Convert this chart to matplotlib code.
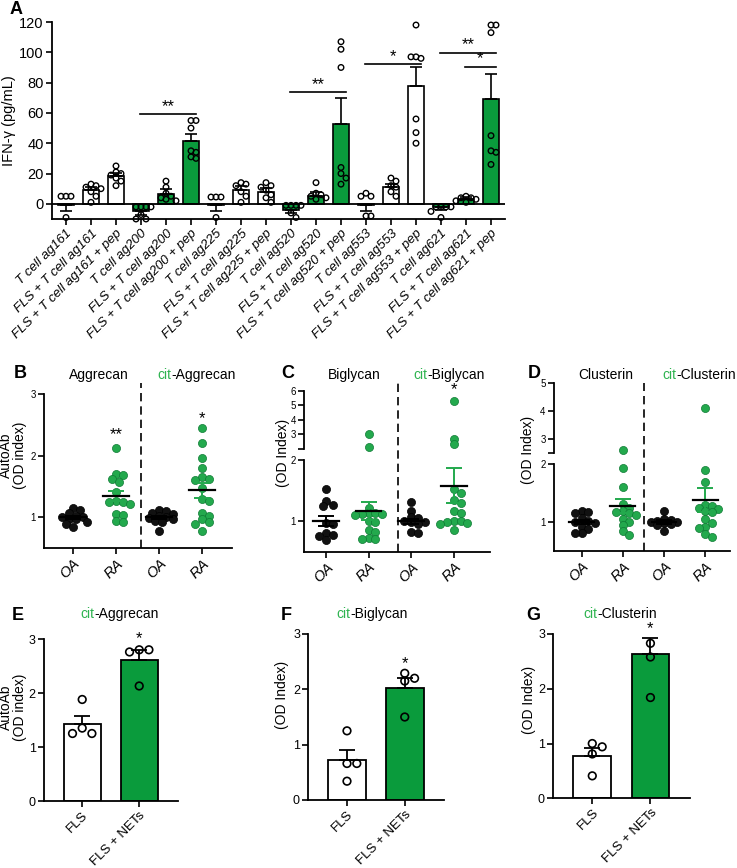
"""
Multi-panel figure: IFN-g bars (A), autoantibody dot plots (B-D), FLS vs FLS + NETs bars (E-G)
"""

import numpy as np
import matplotlib.pyplot as plt

GREEN_BAR = "#0a9b3c"
GREEN_DOT = "#23a94d"
GREEN_TXT = "#2db34f"

# ---- panel A data ----
a_labels = [
    "T cell ag161", "FLS + T cell ag161", "FLS + T cell ag161 + pep",
    "T cell ag200", "FLS + T cell ag200", "FLS + T cell ag200 + pep",
    "T cell ag225", "FLS + T cell ag225", "FLS + T cell ag225 + pep",
    "T cell ag520", "FLS + T cell ag520", "FLS + T cell ag520 + pep",
    "T cell ag553", "FLS + T cell ag553", "FLS + T cell ag553 + pep",
    "T cell ag621", "FLS + T cell ag621", "FLS + T cell ag621 + pep",
]
a_green = [0, 0, 0, 1, 1, 1, 0, 0, 0, 1, 1, 1, 0, 0, 0, 1, 1, 1]
a_means = [-0.5, 9, 18.5, -4.4, 6.5, 41.5, -0.5, 9, 8, -4, 5.5, 53,
           -0.5, 11, 78, -2, 3, 69]
a_err = [4, 2, 2, 2.8, 3, 4.5, 4, 2.5, 2.5, 2, 2, 17, 4, 2, 12, 2, 1.5, 17]
a_points = [
    [5, 5, 5, -9],
    [13, 12, 11, 10, 8, 5, 1],
    [25, 21, 20, 19, 17, 15, 12],
    [-2, -2, -2, -2, -7, -10, -10],
    [15, 11, 7, 5, 4, 3, 2],
    [55, 55, 50, 35, 34, 31, 30],
    [4.5, 4.5, 4.5, -9],
    [14, 13, 12, 8, 5, 1],
    [14, 12, 11, 9, 6, 4, 1],
    [-1, -1, -1, -1, -6, -9],
    [14, 7, 6, 5, 4, 3],
    [107, 102, 90, 24, 20, 17, 13],
    [7, 5, 5, -8, -8],
    [17, 15, 12, 11, 8, 5],
    [118, 97, 96, 97, 56, 47, 40],
    [-2, -2, -2, -2, -5, -9],
    [5, 4, 4, 3, 2, 1],
    [118, 118, 113, 45, 35, 34, 26],
]
a_sig = [(3, 5, 59, "**"), (9, 11, 73.5, "**"), (12, 14, 92, "*"),
         (15, 17, 99.5, "**"), (16, 17, 90.5, "*")]

# ---- panels B-D data ----
dot_groups = ["OA", "RA", "OA", "RA"]
b_points = [
    [1.15, 1.12, 1.07, 1.03, 1.0, 1.0, 0.98, 0.97, 0.92, 0.9, 0.85],
    [2.12, 1.7, 1.69, 1.62, 1.57, 1.42, 1.27, 1.25, 1.25, 1.22, 1.05, 1.04, 0.95, 0.93],
    [1.12, 1.1, 1.07, 1.05, 1.03, 1.0, 0.99, 0.97, 0.95, 0.93, 0.78],
    [2.45, 2.2, 1.96, 1.8, 1.66, 1.62, 1.6, 1.47, 1.3, 1.27, 1.08, 1.03, 0.97, 0.93, 0.9, 0.78],
]
b_means = [1.0, 1.35, 1.0, 1.44]
b_sems = [0.03, 0.08, 0.03, 0.12]

c_points = [
    [1.52, 1.33, 1.26, 1.25, 0.97, 0.96, 0.8, 0.78, 0.76, 0.69],
    [3.0, 2.15, 1.22, 1.13, 1.13, 1.12, 1.12, 1.1, 1.0, 0.98, 0.85, 0.83, 0.72, 0.7, 0.7],
    [1.32, 1.17, 1.07, 1.05, 1.0, 0.99, 0.98, 0.96, 0.82, 0.8],
    [5.3, 2.7, 2.35, 1.52, 1.46, 1.35, 1.3, 1.16, 1.14, 1.01, 1.0, 0.98, 0.97, 0.96, 0.86],
]
c_means = [1.0, 1.17, 1.0, 1.58]
c_sems = [0.08, 0.15, 0.04, 0.29]

d_points = [
    [1.2, 1.18, 1.15, 1.07, 1.02, 1.0, 0.98, 0.92, 0.88, 0.82, 0.82],
    [2.6, 1.93, 1.61, 1.32, 1.25, 1.2, 1.17, 1.15, 1.12, 1.05, 1.0, 0.95, 0.85, 0.78],
    [1.2, 1.05, 1.03, 1.02, 1.0, 1.0, 0.98, 0.97, 0.95, 0.85],
    [4.1, 1.9, 1.7, 1.3, 1.28, 1.25, 1.22, 1.2, 1.18, 1.05, 0.98, 0.92, 0.9, 0.8, 0.75],
]
d_means = [1.0, 1.28, 1.0, 1.38]
d_sems = [0.04, 0.12, 0.03, 0.21]

# ---- panels E-G data ----
net_labels = ["FLS", "FLS + NETs"]
e_means = [1.43, 2.62]
e_sems = [0.15, 0.17]
e_points = [[1.88, 1.35, 1.25, 1.25], [2.8, 2.8, 2.76, 2.13]]
f_means = [0.72, 2.02]
f_sems = [0.18, 0.19]
f_points = [[1.25, 0.66, 0.66, 0.34], [2.29, 2.2, 2.15, 1.5]]
g_means = [0.77, 2.63]
g_sems = [0.14, 0.3]
g_points = [[1.0, 0.94, 0.81, 0.41], [2.83, 2.58, 1.84]]

W, H = 737, 868
fig = plt.figure(figsize=(W / 100, H / 100), dpi=100)
plt.rcParams["font.family"] = ["Liberation Sans", "DejaVu Sans"]


def px_axes(left, top, right, bottom):
    return fig.add_axes([left / W, 1 - bottom / H, (right - left) / W, (bottom - top) / H])


def style(ax, bottom=True):
    for s in ["top", "right"]:
        ax.spines[s].set_visible(False)
    ax.spines["left"].set_linewidth(1.3)
    ax.spines["bottom"].set_linewidth(1.3)
    if not bottom:
        ax.spines["bottom"].set_visible(False)
        ax.tick_params(axis="x", bottom=False, labelbottom=False)
    ax.tick_params(direction="out", length=4, width=1.2, pad=2)
    ax.patch.set_alpha(0)


def swarm(vals, dx, dy, kmax=5):
    # simple beeswarm offsets; if no free slot, take the least crowded one
    placed, offs = [], []
    cands = [0.0]
    for k in range(1, kmax + 1):
        cands += [k * dx / 2, -k * dx / 2]
    for v in vals:
        best, best_d = 0.0, -1
        for c in cands:
            d = min([((c - px) / dx) ** 2 + ((v - py) / dy) ** 2 for px, py in placed] or [9])
            if d >= 1:
                best = c
                break
            if d > best_d:
                best, best_d = c, d
        placed.append((best, v))
        offs.append(best)
    return np.array(offs)


def fig_text(x, y, s, **kw):
    fig.text(x / W, 1 - y / H, s, **kw)


def two_color_title(x_anchor, y, rest):
    fig_text(x_anchor, y, "cit", color=GREEN_TXT, ha="right", va="center", fontsize=10)
    fig_text(x_anchor, y, rest, color="k", ha="left", va="center", fontsize=10)


# ================= A =================
axA = px_axes(52, 22, 505, 219)
style(axA)
xa = np.arange(len(a_labels))
a_cols = [GREEN_BAR if g else "white" for g in a_green]
axA.bar(xa, a_means, width=0.63, color=a_cols, edgecolor="k", linewidth=1.2, zorder=2)
for i, (m, e) in enumerate(zip(a_means, a_err)):
    yerr = [[0], [e]] if m >= 0 else [[e], [0]]
    axA.errorbar(xa[i], m, yerr=yerr, color="k", lw=1.2, capsize=4, capthick=1.2, zorder=3)
    offs = swarm(a_points[i], 0.2, 3.6)
    axA.scatter(xa[i] + offs, a_points[i], s=16, facecolors="none", edgecolors="k",
                linewidths=1.0, zorder=4, clip_on=False)
axA.axhline(0, color="k", lw=1.3, zorder=3)
for i, j, y, lab in a_sig:
    axA.plot([i - 0.05, j + 0.2], [y, y], color="k", lw=1.2, clip_on=False)
    axA.text((i + j + 0.15) / 2, y + 0.5, lab, ha="center", va="bottom", fontsize=12)
axA.set_xlim(-0.56, 17.56)
axA.set_ylim(-10, 120)
axA.set_yticks(range(0, 121, 20))
axA.set_xticks(xa)
axA.set_xticklabels(a_labels, rotation=45, ha="right", rotation_mode="anchor",
                    fontsize=9.5, style="italic")
axA.tick_params(axis="y", labelsize=10.5)
axA.set_ylabel("IFN-γ (pg/mL)", fontsize=10.5, labelpad=2)
fig_text(10, 10, "A", fontsize=13, fontweight="bold", ha="left", va="center")


# ================= B-D =================
def dot_points(ax_lo, ax_hi, points, split, dx, dy):
    for i, pts in enumerate(points):
        col = "#111111" if i % 2 == 0 else GREEN_DOT
        edge = "k" if i % 2 == 0 else "#0e7a34"
        pts = np.array(pts)
        offs = swarm(pts, dx, dy, kmax=4)
        lo = pts <= split
        ax_lo.scatter(i + offs[lo], pts[lo], s=34, color=col, edgecolors=edge,
                      linewidths=0.5, zorder=3, clip_on=False)
        if ax_hi is not None and (~lo).any():
            ax_hi.scatter(i + offs[~lo], pts[~lo], s=34, color=col, edgecolors=edge,
                          linewidths=0.5, zorder=3, clip_on=False)


def mean_sem(ax, means, sems):
    for i, (m, s) in enumerate(zip(means, sems)):
        ecol = "k" if i % 2 == 0 else GREEN_DOT
        ax.errorbar(i, m, yerr=s, color=ecol, lw=1.4, capsize=6, capthick=1.4, zorder=4)
        ax.plot([i - 0.3, i + 0.3], [m, m], color="k", lw=1.6, zorder=5)


def dot_axis(ax, xlim, top_px, bot_px, dash_top_px, dash_x):
    style(ax)
    ax.set_xlim(*xlim)
    ax.set_xticks(range(4))
    ax.set_xticklabels(dot_groups, rotation=45, ha="right", rotation_mode="anchor",
                       fontsize=10.5, style="italic")
    ax.tick_params(axis="y", labelsize=7)
    ax.axvline(dash_x, ymin=0, ymax=(bot_px - dash_top_px) / (bot_px - top_px),
               color="k", lw=1.2, ls=(0, (5, 3)), clip_on=False)


# B
axB = px_axes(44, 394, 232, 548.3)
dot_axis(axB, (-0.67, 3.7), 394, 548.3, 383, 1.58)
axB.set_ylim(0.5, 3)
axB.set_yticks([1, 2, 3])
dot_points(axB, None, b_points, 10, 0.16, 0.09)
mean_sem(axB, b_means, b_sems)
axB.text(1, 2.22, "**", ha="center", va="bottom", fontsize=12)
axB.text(3, 2.48, "*", ha="center", va="bottom", fontsize=12)

# C (broken axis)
axC = px_axes(304.3, 460, 490, 551.7)
axC2 = px_axes(304.3, 390.7, 490, 449)
dot_axis(axC, (-0.51, 3.85), 460, 551.7, 383, 1.68)
style(axC2, bottom=False)
axC.set_ylim(0.5, 2)
axC.set_yticks([1, 2])
axC2.set_xlim(-0.51, 3.85)
axC2.set_ylim(2, 6)
axC2.set_yticks([2, 3, 4, 5, 6])
axC2.set_yticklabels(["", "3", "4", "5", "6"])
axC2.tick_params(axis="y", labelsize=7)
dot_points(axC, axC2, c_points, 2.0, 0.16, 0.09)
mean_sem(axC, c_means, c_sems)
axC2.text(3, 5.55, "*", ha="center", va="bottom", fontsize=12)

# D (broken axis)
axD = px_axes(554, 464.3, 730, 551)
axD2 = px_axes(554, 382.7, 730, 452.7)
dot_axis(axD, (-0.67, 3.6), 464.3, 551, 383, 1.52)
style(axD2, bottom=False)
axD.set_ylim(0.5, 2)
axD.set_yticks([1, 2])
axD2.set_xlim(-0.67, 3.6)
axD2.set_ylim(2.5, 5)
axD2.set_yticks([2.5, 3, 4, 5])
axD2.set_yticklabels(["", "3", "4", "5"])
axD2.tick_params(axis="y", labelsize=7)
dot_points(axD, axD2, d_points, 2.0, 0.16, 0.095)
mean_sem(axD, d_means, d_sems)

# titles, letters, y labels for B-D
fig_text(14, 373, "B", fontsize=13, fontweight="bold", ha="left", va="center")
fig_text(281, 373, "C", fontsize=13, fontweight="bold", ha="left", va="center")
fig_text(528, 373, "D", fontsize=13, fontweight="bold", ha="left", va="center")
fig_text(99, 375, "Aggrecan", fontsize=10, ha="center", va="center")
two_color_title(171, 375, "-Aggrecan")
fig_text(354, 375, "Biglycan", fontsize=10, ha="center", va="center")
two_color_title(427, 375, "-Biglycan")
fig_text(606, 375, "Clusterin", fontsize=10, ha="center", va="center")
two_color_title(676, 375, "-Clusterin")
fig_text(13, 455, "AutoAb\n(OD index)", fontsize=10, rotation=90, ha="center",
         va="center", linespacing=0.95)
fig_text(283, 453, "(OD Index)", fontsize=10, rotation=90, ha="center", va="center")
fig_text(528, 450, "(OD Index)", fontsize=10, rotation=90, ha="center", va="center")


# ================= E-G =================
def net_panel(ax, means, sems, points, star_y):
    style(ax)
    xb = np.arange(2)
    ax.bar(xb, means, width=0.65, color=["white", GREEN_BAR], edgecolor="k",
           linewidth=1.3, zorder=2)
    for i, (m, s) in enumerate(zip(means, sems)):
        ax.errorbar(i, m, yerr=[[0], [s]], color="k", lw=1.3, capsize=6, capthick=1.3, zorder=3)
        offs = swarm(points[i], 0.17, 0.12)
        ax.scatter(i + offs, points[i], s=30, facecolors="none", edgecolors="k",
                   linewidths=1.2, zorder=4, clip_on=False)
    ax.text(1, star_y, "*", ha="center", va="bottom", fontsize=12)
    ax.set_xlim(-0.67, 1.68)
    ax.set_ylim(0, 3)
    ax.set_yticks([0, 1, 2, 3])
    ax.set_xticks(xb)
    ax.set_xticklabels(net_labels, rotation=45, ha="right", rotation_mode="anchor", fontsize=9.5)
    ax.tick_params(axis="y", labelsize=9)


axE = px_axes(44, 639, 178, 801)
net_panel(axE, e_means, e_sems, e_points, 2.86)
axF = px_axes(308.3, 634, 444, 800)
net_panel(axF, f_means, f_sems, f_points, 2.33)
axG = px_axes(553.3, 634, 690, 798.3)
net_panel(axG, g_means, g_sems, g_points, 2.97)

fig_text(12, 615, "E", fontsize=13, fontweight="bold", ha="left", va="center")
fig_text(281, 615, "F", fontsize=13, fontweight="bold", ha="left", va="center")
fig_text(526, 615, "G", fontsize=13, fontweight="bold", ha="left", va="center")
two_color_title(94, 614, "-Aggrecan")
two_color_title(350, 614, "-Biglycan")
two_color_title(597, 614, "-Clusterin")
fig_text(13, 707, "AutoAb\n(OD index)", fontsize=10, rotation=90, ha="center",
         va="center", linespacing=0.95)
fig_text(282, 695, "(OD Index)", fontsize=10, rotation=90, ha="center", va="center")
fig_text(529, 700, "(OD Index)", fontsize=10, rotation=90, ha="center", va="center")

fig.savefig("out.png", dpi=100)
plt.close()
